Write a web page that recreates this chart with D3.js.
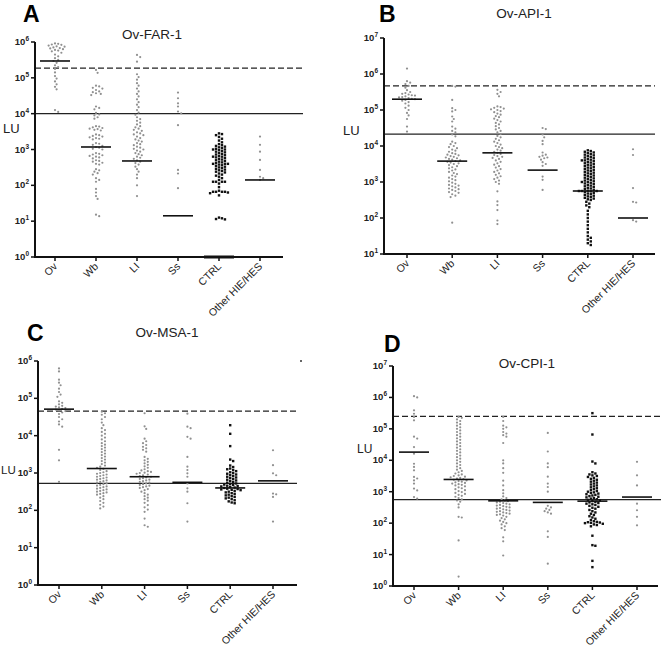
<!DOCTYPE html>
<html><head><meta charset="utf-8">
<script src="https://cdn.jsdelivr.net/npm/d3@7"></script>
<style>body{margin:0;background:#fff}</style>
</head><body>
<svg id="c" width="661" height="651"></svg>
<script>
const categories = ["Ov","Wb","LI","Ss","CTRL","Other HIE/HES"];
// all values are log10(LU)
// ---------- Panel A: Ov-FAR-1 ----------
const A_Ov = [5.96,5.95,5.93,5.92,5.9,5.88,5.87,5.85,5.83,5.82,5.8,5.78,5.76,5.74,5.7,5.65,5.6,5.55,5.5,5.47,5.42,5.35,5.3,5.25,5.15,5.05,4.98,4.9,4.82,4.75,4.68,4.1,4.05];
const A_Wb = [5.22,5.14,4.78,4.76,4.72,4.7,4.66,4.62,4.6,4.57,4.55,4.52,4.2,4.16,4.12,4.02,3.98,3.95,3.9,3.86,3.65,3.64,3.62,3.6,3.58,3.57,3.55,3.53,3.42,3.4,3.38,3.36,3.34,3.32,3.3,3.28,3.18,3.16,3.13,3.1,3.07,3.05,3.02,3.0,2.9,2.88,2.86,2.84,2.82,2.8,2.78,2.75,2.7,2.68,2.66,2.63,2.6,2.58,2.45,2.42,2.38,2.34,2.3,2.2,2.15,2.1,1.9,1.8,1.7,1.62,1.18,1.14];
const A_LI = [5.64,5.58,5.45,5.1,5.02,4.95,4.85,4.78,4.7,4.62,4.55,4.48,4.4,4.32,4.25,4.18,4.1,4.03,3.97,3.9,3.85,3.8,3.75,3.7,3.65,3.62,3.58,3.55,3.52,3.48,3.45,3.42,3.4,3.36,3.32,3.28,3.25,3.22,3.18,3.15,3.12,3.08,3.05,3.02,3.0,2.97,2.94,2.9,2.87,2.84,2.8,2.77,2.74,2.7,2.66,2.62,2.58,2.52,2.45,2.38,2.3,2.2,2.0,1.7];
const A_Ss = [4.59,4.43,4.29,4.2,4.06,4.01,3.68,2.43,2.33,1.92];
const A_CTRL = [3.45,3.43,3.4,3.35,3.3,3.25,3.2,3.15,3.12,3.1,3.08,3.06,3.04,3.02,3.0,3.0,2.98,2.96,2.94,2.92,2.9,2.88,2.86,2.84,2.82,2.8,2.8,2.78,2.76,2.74,2.72,2.7,2.68,2.66,2.64,2.62,2.6,2.6,2.6,2.58,2.56,2.54,2.52,2.5,2.48,2.46,2.44,2.42,2.4,2.38,2.36,2.33,2.3,2.27,2.24,2.2,2.15,2.1,2.1,2.1,2.1,2.05,1.95,1.85,1.82,1.82,1.82,1.82,1.8,1.78,1.72,1.1,1.08,1.06,1.05];
const A_Other = [3.36,3.13,2.94,2.71,2.43,2.24,2.2,2.15];
const A_medians = [5.47,3.07,2.68,1.15,0,2.15];
const A_dashed = 5.27, A_solid = 4.0;
// ---------- Panel B: Ov-API-1 ----------
const B_Ov = [6.15,5.8,5.76,5.72,5.67,5.62,5.55,5.5,5.47,5.45,5.43,5.41,5.4,5.38,5.36,5.35,5.33,5.31,5.3,5.28,5.26,5.22,5.18,5.12,5.06,5.0,4.92,4.85,4.75,4.54,4.4];
const B_Wb = [5.67,5.65,5.28,5.05,5.0,4.96,4.82,4.75,4.68,4.54,4.48,4.42,4.38,4.32,4.27,4.12,4.08,4.05,4.0,3.97,3.94,3.9,3.87,3.84,3.8,3.78,3.76,3.74,3.72,3.7,3.68,3.66,3.64,3.62,3.6,3.58,3.56,3.54,3.52,3.5,3.47,3.44,3.41,3.38,3.35,3.32,3.28,3.25,3.22,3.18,3.15,3.12,3.08,3.05,3.02,2.98,2.95,2.92,2.9,2.88,2.85,2.82,2.8,2.78,2.75,2.72,2.7,2.66,2.62,2.58,1.87];
const B_LI = [5.56,5.5,5.45,5.38,5.1,5.08,5.06,5.04,5.02,5.0,4.97,4.94,4.9,4.87,4.83,4.8,4.76,4.72,4.68,4.64,4.6,4.55,4.5,4.46,4.42,4.38,4.33,4.28,4.24,4.2,4.16,4.12,4.08,4.04,4.0,3.97,3.94,3.9,3.87,3.84,3.81,3.78,3.75,3.72,3.7,3.67,3.64,3.6,3.56,3.52,3.48,3.44,3.4,3.36,3.32,3.28,3.24,3.2,3.16,3.12,3.08,3.04,3.0,2.95,2.74,2.46,2.36,2.22,1.93,1.83];
const B_Ss = [4.5,4.47,4.32,4.24,4.14,4.05,3.82,3.76,3.73,3.7,3.68,3.66,3.62,3.55,3.5,3.45,3.15,3.06,2.78];
const B_CTRL = [3.88,3.86,3.84,3.82,3.8,3.78,3.76,3.74,3.72,3.7,3.68,3.66,3.64,3.62,3.6,3.6,3.58,3.56,3.54,3.52,3.5,3.48,3.46,3.44,3.42,3.4,3.38,3.36,3.34,3.32,3.3,3.28,3.26,3.24,3.22,3.2,3.18,3.16,3.14,3.12,3.1,3.08,3.06,3.04,3.02,3.0,3.0,2.98,2.96,2.94,2.92,2.9,2.88,2.86,2.84,2.82,2.8,2.78,2.76,2.75,2.75,2.75,2.74,2.72,2.7,2.68,2.66,2.64,2.62,2.6,2.58,2.56,2.54,2.52,2.5,2.45,2.4,2.35,2.3,2.2,2.1,2.0,1.9,1.8,1.7,1.6,1.5,1.45,1.4,1.35,1.3,1.25];
const B_Other = [3.91,3.75,2.83,2.45,2.43,1.94,1.9];
const B_medians = [5.3,3.58,3.81,3.33,2.75,2.0];
const B_dashed = 5.67, B_solid = 4.33;
// ---------- Panel C: Ov-MSA-1 ----------
const C_Ov = [5.8,5.72,5.5,5.42,5.35,5.26,5.17,5.1,5.04,4.92,4.88,4.84,4.8,4.78,4.76,4.74,4.72,4.7,4.68,4.66,4.62,4.58,4.5,4.44,4.38,4.3,4.24,3.62,3.34,2.76];
const C_Wb = [4.64,4.6,4.56,4.5,4.44,4.35,4.28,4.2,4.15,4.1,4.05,4.0,3.95,3.9,3.85,3.8,3.76,3.72,3.68,3.64,3.6,3.56,3.52,3.48,3.44,3.4,3.36,3.32,3.28,3.24,3.2,3.17,3.14,3.11,3.08,3.05,3.02,3.0,2.98,2.96,2.94,2.92,2.9,2.88,2.86,2.84,2.82,2.8,2.78,2.76,2.74,2.72,2.7,2.68,2.66,2.64,2.62,2.6,2.58,2.56,2.54,2.52,2.5,2.48,2.46,2.44,2.42,2.38,2.34,2.3,2.25,2.2,2.15,2.1,2.05];
const C_LI = [4.6,4.25,4.18,3.92,3.85,3.8,3.75,3.7,3.66,3.62,3.57,3.43,3.38,3.34,3.3,3.26,3.22,3.18,3.14,3.1,3.07,3.05,3.03,3.01,3.0,2.98,2.96,2.94,2.92,2.9,2.88,2.86,2.84,2.82,2.8,2.78,2.76,2.74,2.72,2.7,2.68,2.66,2.64,2.62,2.6,2.57,2.54,2.5,2.46,2.42,2.38,2.34,2.3,2.26,2.2,2.14,2.08,2.02,1.96,1.78,1.6,1.56];
const C_Ss = [4.59,4.24,4.2,3.97,3.92,3.43,3.17,3.08,2.99,2.9,2.72,2.59,2.5,2.19,1.7];
const C_CTRL = [4.28,4.05,3.72,3.36,3.32,3.2,3.16,3.12,3.1,3.08,3.05,3.02,3.0,2.98,2.96,2.94,2.92,2.9,2.88,2.86,2.84,2.82,2.8,2.78,2.76,2.74,2.72,2.7,2.69,2.68,2.66,2.65,2.64,2.62,2.61,2.6,2.58,2.57,2.56,2.55,2.54,2.52,2.5,2.48,2.46,2.44,2.42,2.4,2.38,2.36,2.34,2.32,2.3,2.27,2.24,2.21,2.19];
const C_Other = [3.61,3.21,2.99,2.94,2.45,2.36,2.43,1.7];
const C_medians = [4.71,3.12,2.9,2.75,2.6,2.79];
const C_dashed = 4.66, C_solid = 2.72;
const C_stray = [6];
// ---------- Panel D: Ov-CPI-1 ----------
const D_Ov = [6.04,6.0,5.59,5.48,5.38,5.27,4.75,4.69,4.42,4.21,3.89,3.79,3.68,3.47,3.42,3.36,3.26,3.1,3.04,2.83,2.78];
const D_Wb = [5.38,5.35,5.3,5.25,5.2,5.15,5.1,5.05,5.0,4.95,4.9,4.85,4.8,4.75,4.7,4.65,4.6,4.55,4.5,4.45,4.4,4.35,4.3,4.25,4.2,4.15,4.1,4.05,4.0,3.95,3.9,3.85,3.8,3.75,3.7,3.66,3.62,3.58,3.55,3.52,3.5,3.48,3.46,3.44,3.42,3.4,3.38,3.36,3.34,3.32,3.3,3.28,3.26,3.24,3.22,3.2,3.17,3.14,3.11,3.08,3.05,3.02,2.99,2.96,2.93,2.9,2.87,2.84,2.8,2.76,2.72,2.68,2.6,2.5,2.2,2.18,1.45,0.3];
const D_LI = [5.38,5.25,5.1,5.05,5.0,4.9,4.85,4.8,4.75,4.55,4.0,3.9,3.75,3.6,3.35,3.2,3.05,2.95,2.85,2.8,2.76,2.72,2.7,2.68,2.66,2.64,2.62,2.6,2.58,2.56,2.54,2.52,2.5,2.48,2.46,2.44,2.42,2.4,2.38,2.36,2.34,2.32,2.3,2.28,2.26,2.24,2.2,2.16,2.12,2.08,2.04,2.0,1.96,1.9,1.84,1.78,1.55,1.42,0.97];
const D_Ss = [4.87,4.28,3.9,3.78,3.48,3.26,3.15,3.0,2.55,2.5,2.46,2.42,2.38,2.34,2.3,1.74,1.56,0.71];
const D_CTRL = [5.5,4.82,3.96,3.9,3.62,3.58,3.55,3.52,3.5,3.47,3.44,3.41,3.38,3.35,3.32,3.29,3.26,3.23,3.2,3.17,3.14,3.11,3.08,3.05,3.02,3.0,2.98,2.96,2.94,2.92,2.9,2.88,2.86,2.84,2.82,2.8,2.78,2.76,2.74,2.72,2.7,2.68,2.66,2.64,2.62,2.6,2.58,2.55,2.52,2.49,2.46,2.42,2.38,2.34,2.3,2.26,2.22,2.18,2.14,2.1,2.06,2.04,2.03,2.02,2.01,2.0,1.98,1.96,1.94,1.9,1.6,1.3,1.28,0.8,0.6];
const D_Other = [3.95,3.52,3.2,2.62,2.41,2.2,1.93];
const D_medians = [4.26,3.39,2.71,2.66,2.7,2.83];
const D_dashed = 5.4, D_solid = 2.75;

const panels = [
  {letter:"A", title:"Ov-FAR-1", series:[A_Ov,A_Wb,A_LI,A_Ss,A_CTRL,A_Other], medians:A_medians, dashed:A_dashed, solid:A_solid,
   ymin:0, ymax:6, ax:35, yb:257, yt:42, cx0:55, cx1:260, xEnd:283, lineEnd:303, tx:152, ty:39, lx:23, ly:22, lux:3, luy:133, lus:13},
  {letter:"B", title:"Ov-API-1", series:[B_Ov,B_Wb,B_LI,B_Ss,B_CTRL,B_Other], medians:B_medians, dashed:B_dashed, solid:B_solid,
   ymin:1, ymax:7, ax:384, yb:254, yt:38, cx0:407, cx1:633, xEnd:655, lineEnd:655, tx:524, ty:18, lx:379, ly:22, lux:343, luy:135, lus:13},
  {letter:"C", title:"Ov-MSA-1", series:[C_Ov,C_Wb,C_LI,C_Ss,C_CTRL,C_Other], medians:C_medians, dashed:C_dashed, solid:C_solid,
   ymin:0, ymax:6, ax:38, yb:585, yt:361, cx0:59, cx1:273, xEnd:297, lineEnd:297, tx:167, ty:337, lx:27, ly:341, lux:1, luy:474, lus:11.5, stray:C_stray},
  {letter:"D", title:"Ov-CPI-1", series:[D_Ov,D_Wb,D_LI,D_Ss,D_CTRL,D_Other], medians:D_medians, dashed:D_dashed, solid:D_solid,
   ymin:0, ymax:7, ax:393, yb:586, yt:366, cx0:414, cx1:637, xEnd:658, lineEnd:661, tx:527, ty:368, lx:384, ly:352, lux:357, luy:453, lus:12}
];

const svg = d3.select("#c");
const FONT = "Liberation Sans, Arial, sans-serif";

function swarm(ys, d){
  const idx = ys.map((y,i)=>i).sort((a,b)=>ys[a]-ys[b]);
  const placed = []; const xs = new Array(ys.length);
  for(const i of idx){
    const y = ys[i];
    for(let k=0;k<80;k++){
      const off = (k%2 ? 1 : -1) * Math.ceil(k/2) * d * 0.55;
      let ok = true;
      for(const p of placed){
        const dy = p[1]-y; if(Math.abs(dy) >= d) continue;
        const dx = p[0]-off; if(dx*dx+dy*dy < d*d){ok=false;break;}
      }
      if(ok){ xs[i]=off; placed.push([off,y]); break; }
    }
  }
  return xs;
}

panels.forEach(P=>{
  const g = svg.append("g");
  const y = d3.scaleLog().domain([10**P.ymin, 10**P.ymax]).range([P.yb, P.yt]);
  const x = d3.scalePoint().domain(categories).range([P.cx0, P.cx1]);

  // letter, title, LU
  g.append("text").attr("x",P.lx).attr("y",P.ly).text(P.letter)
    .attr("font-family",FONT).attr("font-weight","bold").attr("font-size",23);
  g.append("text").attr("x",P.tx).attr("y",P.ty).attr("text-anchor","middle").text(P.title)
    .attr("font-family",FONT).attr("font-size",13.5).attr("fill","#222");
  g.append("text").attr("x",P.lux).attr("y",P.luy).text("LU")
    .attr("font-family",FONT).attr("font-size",P.lus).attr("fill","#222");

  // reference lines
  g.append("line").attr("x1",P.ax).attr("x2",P.lineEnd).attr("y1",y(10**P.dashed)).attr("y2",y(10**P.dashed))
    .attr("stroke","#222").attr("stroke-width",1.2).attr("stroke-dasharray","6,3");
  g.append("line").attr("x1",P.ax).attr("x2",P.lineEnd).attr("y1",y(10**P.solid)).attr("y2",y(10**P.solid))
    .attr("stroke","#222").attr("stroke-width",1.2);

  // points
  P.series.forEach((vals,ci)=>{
    const cat = categories[ci];
    const ys = vals.map(v=>y(10**v));
    if(cat==="CTRL"){
      const xs = swarm(ys, 2.7);
      g.append("g").selectAll("rect").data(vals).join("rect")
        .attr("x",(v,i)=>x(cat)+xs[i]-1.2).attr("y",v=>y(10**v)-1.2)
        .attr("width",2.4).attr("height",2.4).attr("fill","#111");
    } else {
      const xs = swarm(ys, 2.9);
      g.append("g").selectAll("circle").data(vals).join("circle")
        .attr("cx",(v,i)=>x(cat)+xs[i]).attr("cy",v=>y(10**v)).attr("r",1.1)
        .attr("fill","#909090");
    }
  });

  // medians
  g.append("g").selectAll("line").data(P.medians).join("line")
    .attr("x1",(m,i)=>x(categories[i])-15).attr("x2",(m,i)=>x(categories[i])+15)
    .attr("y1",m=>y(10**m)).attr("y2",m=>y(10**m))
    .attr("stroke","#111").attr("stroke-width",m=>m===P.ymin?3:1.6);

  if(P.stray){
    g.append("g").selectAll("circle").data(P.stray).join("circle")
      .attr("cx",P.xEnd+4).attr("cy",v=>y(10**v)).attr("r",1).attr("fill","#333");
  }

  // axes
  g.append("line").attr("x1",P.ax).attr("x2",P.ax).attr("y1",P.yb+1).attr("y2",P.yt)
    .attr("stroke","#111").attr("stroke-width",2);
  g.append("line").attr("x1",P.ax-1).attr("x2",P.xEnd).attr("y1",P.yb).attr("y2",P.yb)
    .attr("stroke","#111").attr("stroke-width",2);
  const decades = d3.range(P.ymin, P.ymax+1);
  const yt = g.append("g");
  decades.forEach(e=>{
    const yy = y(10**e);
    yt.append("line").attr("x1",P.ax-4).attr("x2",P.ax).attr("y1",yy).attr("y2",yy).attr("stroke","#111").attr("stroke-width",1.5);
    const t = yt.append("text").attr("x",P.ax-6).attr("y",yy+3).attr("text-anchor","end")
      .attr("font-family",FONT).attr("font-weight","bold").attr("font-size",9.5).attr("fill","#222");
    t.append("tspan").text("10");
    t.append("tspan").attr("dy",-4).attr("font-size",6.5).text(e);
  });
  categories.forEach(c=>{
    const xx = x(c);
    g.append("line").attr("x1",xx).attr("x2",xx).attr("y1",P.yb).attr("y2",P.yb+4).attr("stroke","#111").attr("stroke-width",1.5);
    g.append("text").attr("transform",`translate(${xx+3},${P.yb+10}) rotate(-45)`).attr("text-anchor","end")
      .attr("font-family",FONT).attr("font-size",10.5).attr("fill","#222").text(c);
  });
});
</script>
</body></html>
